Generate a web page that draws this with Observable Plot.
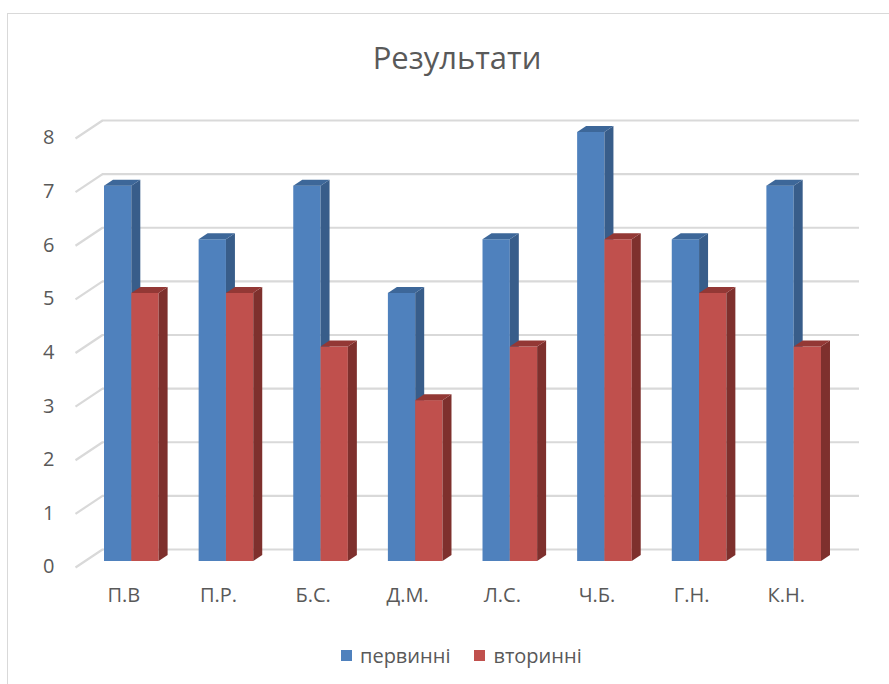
<!DOCTYPE html>
<html>
<head>
<meta charset="utf-8">
<script src="https://cdn.jsdelivr.net/npm/d3@7"></script>
<script src="https://cdn.jsdelivr.net/npm/@observablehq/plot@0.6"></script>
<style>
  html, body { margin: 0; padding: 0; background: #fff; overflow: hidden; width: 889px; height: 684px; }
  body { font-family: "Open Sans", sans-serif; color: #595959; position: relative; }
  #frame { position: absolute; left: 7px; top: 13px; width: 920px; height: 720px; border: 1px solid #d9d9d9; box-sizing: border-box; }
  #title { position: absolute; left: 0; width: 914px; top: 36px; text-align: center; font-size: 31px; line-height: normal; color: #595959; }
  #chart { position: absolute; left: 0; top: 100px; }
  #legend { position: absolute; left: 341px; top: 643px; height: 24px; display: flex; align-items: center; font-size: 20px; color: #595959; }
  .sw { width: 11px; height: 11px; display: inline-block; margin-right: 8px; }
</style>
</head>
<body>
<div id="frame"></div>
<div id="title">Результати</div>
<div id="chart"></div>
<div id="legend"></div>
<script>
// ---- data ----
const categories = ["П.В", "П.Р.", "Б.С.", "Д.М.", "Л.С.", "Ч.Б.", "Г.Н.", "К.Н."];
const seriesNames = ["первинні", "вторинні"];
const primary = [7, 6, 7, 5, 6, 8, 6, 7];
const secondary = [5, 5, 4, 3, 4, 6, 5, 4];
const yTicks = [0, 1, 2, 3, 4, 5, 6, 7, 8];

// ---- styles ----
const palette = [
  { front: "#4F81BD", side: "#385D8A", top: "#3D6799" },
  { front: "#C0504D", side: "#7E302D", top: "#933835" }
];
const W = 889, H = 520, ML = 102, MR = 30, MT = 20, MB = 71;
const KX = (W - ML - MR) / 8;      // px per category unit
const KY = (H - MT - MB) / 8;      // px per value unit
const depthX = 9 / KX, depthY = 6 / KY;   // bar depth in data units
const half = 27.3 / KX;                    // bar width in data units
const barDX = -18, barDY = 12;             // bar plane offset (px)
const frontDX = -27, frontDY = 18;         // front plane offset (px)

const series = [primary, secondary];
const marks = [];

// back wall gridlines
marks.push(Plot.ruleY(yTicks, { y: d => d, stroke: "#d9d9d9", strokeWidth: 2.2 }));
// side wall diagonals
marks.push(Plot.link(yTicks, {
  x1: () => -0.5, y1: d => d,
  x2: () => -0.5 + frontDX / KX, y2: d => d - frontDY / KY,
  stroke: "#d9d9d9", strokeWidth: 2.2
}));

series.forEach((vals, s) => {
  const c = palette[s];
  const rows = vals.map((v, i) => ({ i, v, x1: i + (s - 1) * half, x2: i + s * half }));
  // front face
  marks.push(Plot.rect(rows, { x1: "x1", x2: "x2", y1: () => 0, y2: "v", fill: c.front, dx: barDX, dy: barDY }));
  // side face
  const side = rows.flatMap(r => [
    { i: r.i, x: r.x2, y1: 0, y2: r.v },
    { i: r.i, x: r.x2 + depthX, y1: depthY, y2: r.v + depthY }
  ]);
  marks.push(Plot.areaY(side, { x: "x", y1: "y1", y2: "y2", z: "i", fill: c.side, dx: barDX, dy: barDY, curve: "linear" }));
  // top face
  const top = rows.flatMap(r => [
    { i: r.i, y: r.v, x1: r.x1, x2: r.x2 },
    { i: r.i, y: r.v + depthY, x1: r.x1 + depthX, x2: r.x2 + depthX }
  ]);
  marks.push(Plot.areaX(top, { y: "y", x1: "x1", x2: "x2", z: "i", fill: c.top, dx: barDX, dy: barDY, curve: "linear" }));
});

// y tick labels (front plane)
marks.push(Plot.text(yTicks, {
  x: () => -0.5, y: d => d, text: d => String(d),
  textAnchor: "end", dx: -48, dy: 17.5, fontSize: 20, fill: "#595959"
}));
// category labels (front plane)
marks.push(Plot.text(categories, {
  x: (d, i) => i, y: () => 0, text: d => d,
  textAnchor: "middle", dx: -26, dy: 46, fontSize: 20, fill: "#595959"
}));

const chart = Plot.plot({
  width: W, height: H,
  marginLeft: ML, marginRight: MR, marginTop: MT, marginBottom: MB,
  style: { fontFamily: "Open Sans, sans-serif", background: "transparent", overflow: "visible" },
  x: { type: "linear", domain: [-0.5, 7.5], axis: null },
  y: { type: "linear", domain: [0, 8], axis: null },
  marks
});
document.getElementById("chart").appendChild(chart);

// legend
const legend = document.getElementById("legend");
seriesNames.forEach((name, s) => {
  const sw = document.createElement("span");
  sw.className = "sw";
  sw.style.background = palette[s].front;
  const t = document.createElement("span");
  t.textContent = name;
  t.style.marginRight = s === 0 ? "24px" : "0";
  legend.appendChild(sw);
  legend.appendChild(t);
});
</script>
</body>
</html>
